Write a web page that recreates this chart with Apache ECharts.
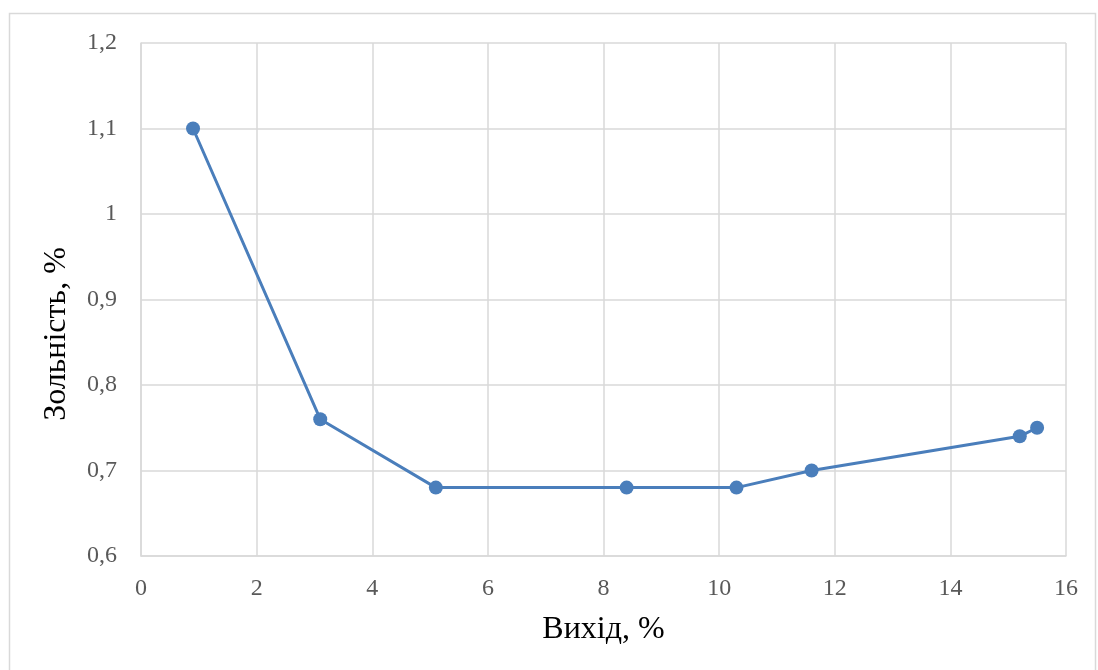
<!DOCTYPE html>
<html><head><meta charset="utf-8">
<script src="https://cdn.jsdelivr.net/npm/echarts@6/dist/echarts.min.js"></script>
<style>html,body{margin:0;padding:0;background:#fff}#c{width:1098px;height:670px}</style>
</head><body><div id="c"></div>
<script>
const xValues = [0.9, 3.1, 5.1, 8.4, 10.3, 11.6, 15.2, 15.5];
const yValues = [1.10, 0.76, 0.68, 0.68, 0.68, 0.70, 0.74, 0.75];
const xTitle = 'Вихід, %';
const yTitle = 'Зольність, %';
const chart = echarts.init(document.getElementById('c'), null, {renderer:'canvas'});
const gridCol = '#d9d9d9';
const tickFont = {color:'#595959', fontFamily:'Liberation Serif', fontSize:24};
chart.setOption({
  animation:false,
  graphic:[
    {type:'rect', shape:{x:9.5,y:13.5,width:1086,height:700}, style:{fill:'none', stroke:'#d9d9d9', lineWidth:1.5}, silent:true},
    {type:'text', x:57, y:334, rotation:Math.PI/2, style:{text:yTitle, fill:'#000', font:'32px "Liberation Serif"', textAlign:'center', textVerticalAlign:'middle'}, silent:true}
  ],
  grid:{left:141, right:32, top:43, bottom:114},
  xAxis:{type:'value', min:0, max:16, interval:2,
    name:xTitle, nameLocation:'middle', nameGap:58,
    nameTextStyle:{color:'#000', fontFamily:'Liberation Serif', fontSize:32},
    axisLine:{show:true, lineStyle:{color:gridCol, width:1.5}}, axisTick:{show:false},
    splitLine:{show:true, lineStyle:{color:gridCol, width:1.5}},
    axisLabel:Object.assign({margin:21}, tickFont)},
  yAxis:{type:'value', min:0.6, max:1.2, interval:0.1,
    axisLine:{show:true, lineStyle:{color:gridCol, width:1.5}}, axisTick:{show:false},
    splitLine:{show:true, lineStyle:{color:gridCol, width:1.5}},
    axisLabel:Object.assign({margin:24, formatter:v=>String(Math.round(v*10)/10).replace('.',',')}, tickFont)},
  series:[{type:'line', data:xValues.map((x,i)=>[x,yValues[i]]),
    symbol:'circle', symbolSize:14,
    lineStyle:{color:'#4a7ebb', width:3}, itemStyle:{color:'#4a7ebb'}}]
});
</script></body></html>
